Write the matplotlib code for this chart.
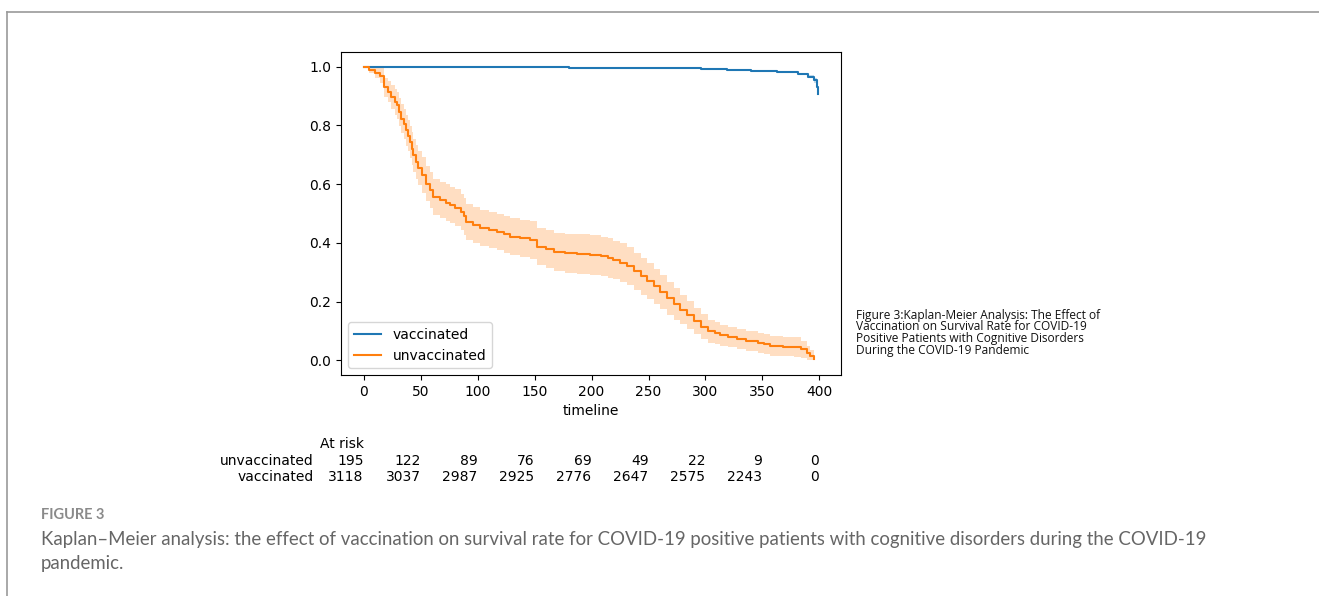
import matplotlib.pyplot as plt
from matplotlib.lines import Line2D
import matplotlib.transforms as mtransforms

# Dados (curvas de Kaplan-Meier)
vac_t = [0, 50, 100, 180, 250, 296, 319, 340, 363, 381, 390, 395, 398, 399]
vac_s = [1.0, 0.999, 0.998, 0.997, 0.995, 0.992, 0.989, 0.986, 0.981, 0.975, 0.966, 0.953, 0.930, 0.907]
vac_ci = [0.0, 0.001, 0.001, 0.002, 0.002, 0.003, 0.003, 0.004, 0.004, 0.005, 0.006, 0.008, 0.012, 0.02]

unvac_t = [0, 5, 10, 14, 18, 21, 24, 27, 29, 31, 33, 35, 37, 39, 41, 42, 43, 46, 48, 51,
           55, 58, 61, 67, 72, 76, 80, 85, 88, 90, 96, 102, 110, 117, 123, 128, 137, 146,
           152, 160, 167, 177, 187, 199, 208, 214, 219, 225, 231, 237, 243, 249, 255, 260,
           266, 272, 278, 284, 290, 296, 302, 308, 313, 320, 328, 336, 346, 351, 357, 368,
           378, 384, 389, 392, 395]
unvac_s = [1.0, 0.99, 0.98, 0.969, 0.93, 0.915, 0.896, 0.88, 0.868, 0.845, 0.823, 0.805,
           0.783, 0.765, 0.743, 0.72, 0.698, 0.676, 0.655, 0.631, 0.602, 0.58, 0.557, 0.546,
           0.537, 0.529, 0.52, 0.506, 0.49, 0.472, 0.46, 0.45, 0.443, 0.438, 0.43, 0.421,
           0.415, 0.41, 0.387, 0.378, 0.37, 0.365, 0.362, 0.359, 0.354, 0.348, 0.342, 0.332,
           0.32, 0.303, 0.286, 0.27, 0.252, 0.232, 0.212, 0.192, 0.173, 0.153, 0.133, 0.115,
           0.099, 0.092, 0.085, 0.079, 0.073, 0.066, 0.06, 0.055, 0.049, 0.047, 0.046, 0.037,
           0.025, 0.015, 0.003]
unvac_ci = [0.0, 0.012, 0.02, 0.025, 0.033, 0.036, 0.04, 0.043, 0.045, 0.047, 0.049, 0.05,
            0.052, 0.053, 0.055, 0.056, 0.057, 0.058, 0.059, 0.06, 0.06, 0.061, 0.062, 0.062,
            0.062, 0.062, 0.062, 0.062, 0.062, 0.062, 0.062, 0.062, 0.062, 0.062, 0.063, 0.063,
            0.063, 0.064, 0.064, 0.065, 0.065, 0.066, 0.067, 0.067, 0.067, 0.067, 0.066, 0.066,
            0.065, 0.064, 0.063, 0.062, 0.06, 0.058, 0.056, 0.054, 0.051, 0.048, 0.045, 0.042,
            0.04, 0.038, 0.036, 0.035, 0.034, 0.034, 0.034, 0.034, 0.033, 0.033, 0.033, 0.03,
            0.025, 0.02, 0.01]

# Tabela "At risk"
risk_times = [0, 50, 100, 150, 200, 250, 300, 350, 400]
risk_unvac = [195, 122, 89, 76, 69, 49, 22, 9, 0]
risk_vac = [3118, 3037, 2987, 2925, 2776, 2647, 2575, 2243, 0]

side_caption = ['Figure 3:Kaplan-Meier Analysis: The Effect of',
                'Vaccination on Survival Rate for COVID-19',
                'Positive Patients with Cognitive Disorders',
                'During the COVID-19 Pandemic']
caption = ['Kaplan\u2013Meier analysis: the effect of vaccination on survival rate for COVID-19 '
           'positive patients with cognitive disorders during the COVID-19',
           'pandemic.']

W, H = 1319, 596
fig = plt.figure(figsize=(W / 100, H / 100), dpi=100)
ax = fig.add_axes([341 / W, 1 - 375 / H, 500 / W, 323 / H])

for t, s, ci, cor, nome in [(vac_t, vac_s, vac_ci, '#1f77b4', 'vaccinated'),
                            (unvac_t, unvac_s, unvac_ci, '#ff7f0e', 'unvaccinated')]:
    lo = [max(0.0, a - b) for a, b in zip(s, ci)]
    hi = [min(1.0, a + b) for a, b in zip(s, ci)]
    ax.fill_between(t, lo, hi, step='post', color=cor, alpha=0.25, linewidth=0)
    ax.step(t, s, where='post', color=cor, linewidth=1.5, label=nome)

ax.set_xlim(-20, 419)
ax.set_ylim(-0.05, 1.05)
ax.set_xticks(risk_times)
ax.set_yticks([0.0, 0.2, 0.4, 0.6, 0.8, 1.0])
ax.set_xlabel('timeline', fontsize=10)
ax.legend(loc='lower left', fontsize=10)

# contagens em risco (x em dados, y na figura)
trans = mtransforms.blended_transform_factory(ax.transData, fig.transFigure)
fig.text(364 / W, 1 - 444 / H, 'At risk', ha='right', va='center', fontsize=10)
for x, u, v in zip(risk_times, risk_unvac, risk_vac):
    ax.text(x, 1 - 461 / H, str(u), transform=trans, ha='right', va='center', fontsize=10)
    ax.text(x, 1 - 477 / H, str(v), transform=trans, ha='right', va='center', fontsize=10)
fig.text(314 / W, 1 - 461 / H, 'unvaccinated', ha='right', va='center', fontsize=10)
fig.text(314 / W, 1 - 477 / H, 'vaccinated', ha='right', va='center', fontsize=10)

# legenda lateral
for i, linha in enumerate(side_caption):
    fig.text(856 / W, 1 - (315 + 11.7 * i) / H, linha, ha='left', va='center',
             fontsize=8.6, family='Open Sans', color='#111111')

# bordas da página
fig.add_artist(Line2D([7 / W, 1], [1 - 12 / H, 1 - 12 / H], color='#9a9a9a', linewidth=1.2))
fig.add_artist(Line2D([7 / W, 7 / W], [0, 1 - 12 / H], color='#9a9a9a', linewidth=1.2))

fig.text(41 / W, 1 - 515 / H, 'FIGURE 3', ha='left', va='center', fontsize=10.5,
         family='Lato', weight='bold', color='#8a8a8a')
fig.text(41 / W, 1 - 540 / H, caption[0], ha='left', va='center', fontsize=13.4,
         family='Lato', color='#666666')
fig.text(41 / W, 1 - 563 / H, caption[1], ha='left', va='center', fontsize=13.4,
         family='Lato', color='#666666')

fig.savefig('out.png', dpi=100)
